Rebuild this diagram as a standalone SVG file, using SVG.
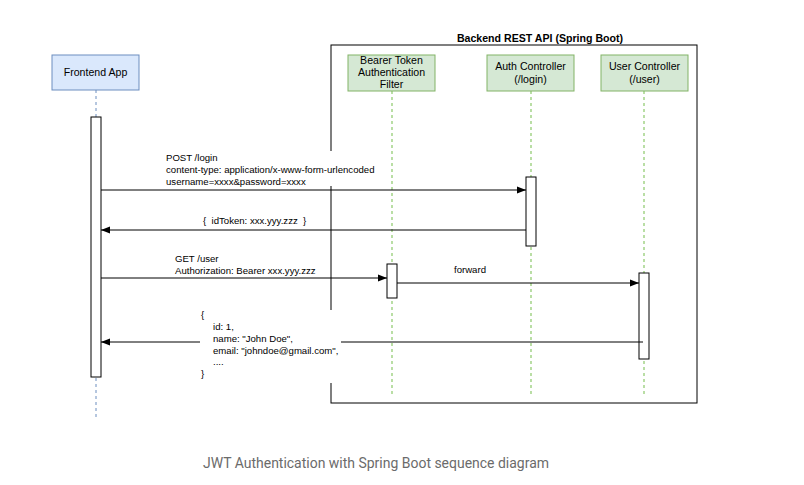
<svg xmlns="http://www.w3.org/2000/svg" width="804" height="485" viewBox="0 0 804 485">
<defs>
<style>
.t{font-family:"Liberation Sans",Arial,sans-serif;font-size:9.6px;fill:#000}
.p{font-family:"Liberation Sans",Arial,sans-serif;font-size:10.6px;fill:#000;text-anchor:middle}
.blue{fill:#dae8fc;stroke:#6c8ebf;stroke-width:1}
.green{fill:#d5e8d4;stroke:#82b366;stroke-width:1}
.ll{stroke:#6c8ebf;stroke-width:1;stroke-dasharray:3 3;fill:none}
.llg{stroke:#8cc86a;stroke-width:1.2;stroke-dasharray:3 3;fill:none}
.act{fill:#fff;stroke:#000;stroke-width:1}
.msg{stroke:#000;stroke-width:1;fill:none}
.bg{fill:#fff;stroke:none}
</style>
<marker id="ah" viewBox="0 0 10 10" refX="10" refY="5" markerWidth="9" markerHeight="9" markerUnits="userSpaceOnUse" orient="auto">
<path d="M0,1 L10,5 L0,9 Z" fill="#000"/>
</marker>
</defs>
<rect width="804" height="485" fill="#fff"/>

<g id="frame">
<rect x="331" y="45" width="366" height="358" fill="none" stroke="#000" stroke-width="1"/>
<text x="540" y="42" style="font-family:'Liberation Sans',Arial,sans-serif;font-size:10.6px;font-weight:bold;text-anchor:middle">Backend REST API (Spring Boot)</text>
</g>

<g id="frontend">
<line class="ll" x1="96" y1="90" x2="96" y2="420"/>
<rect class="blue" x="52" y="55" width="87" height="35"/>
<text class="p" x="95.5" y="76">Frontend App</text>
<rect class="act" x="91" y="117" width="10" height="260"/>
</g>

<g id="filter">
<line class="llg" x1="392" y1="91" x2="392" y2="396"/>
<rect class="green" x="348" y="55" width="87" height="36"/>
<text class="p" x="391.5" y="64">Bearer Token</text>
<text class="p" x="391.5" y="76">Authentication</text>
<text class="p" x="391.5" y="88">Filter</text>
<rect class="act" x="387" y="264" width="10" height="34"/>
</g>

<g id="auth">
<line class="llg" x1="531" y1="91" x2="531" y2="396"/>
<rect class="green" x="487" y="55" width="87" height="36"/>
<text class="p" x="530.5" y="70">Auth Controller</text>
<text class="p" x="530.5" y="83">(/login)</text>
<rect class="act" x="526" y="177" width="10" height="69"/>
</g>

<g id="user">
<line class="llg" x1="644" y1="91" x2="644" y2="396"/>
<rect class="green" x="601" y="55" width="87" height="36"/>
<text class="p" x="644.5" y="70">User Controller</text>
<text class="p" x="644.5" y="83">(/user)</text>
<rect class="act" x="639" y="273" width="10" height="86"/>
</g>

<g id="connectors">
<line class="msg" x1="101" y1="190" x2="526" y2="190" marker-end="url(#ah)"/>
<rect class="bg" x="164" y="151" width="212" height="35"/>
<text class="t" x="166" y="161">POST /login</text>
<text class="t" x="166" y="173">content-type: application/x-www-form-urlencoded</text>
<text class="t" x="166" y="185">username=xxxx&amp;password=xxxx</text>

<line class="msg" x1="526" y1="230" x2="101" y2="230" marker-end="url(#ah)"/>
<text class="t" x="203" y="224" xml:space="preserve">{  idToken: xxx.yyy.zzz  }</text>

<line class="msg" x1="101" y1="278" x2="387" y2="278" marker-end="url(#ah)"/>
<text class="t" x="175" y="262">GET /user</text>
<text class="t" x="175" y="274">Authorization: Bearer xxx.yyy.zzz</text>

<line class="msg" x1="397" y1="283" x2="639" y2="283" marker-end="url(#ah)"/>
<text class="t" x="470" y="273" text-anchor="middle">forward</text>

<line class="msg" x1="643" y1="342" x2="101" y2="342" marker-end="url(#ah)"/>
<rect class="bg" x="200" y="310" width="141" height="73"/>
<text class="t" x="201" y="318">{</text>
<text class="t" x="213" y="330">id: 1,</text>
<text class="t" x="213" y="342">name: "John Doe",</text>
<text class="t" x="213" y="354">email: "johndoe@gmail.com",</text>
<text class="t" x="213" y="365">....</text>
<text class="t" x="201" y="377">}</text>
</g>

<text x="376" y="468" text-anchor="middle" textLength="346" lengthAdjust="spacingAndGlyphs" style="font-family:Roboto,'Liberation Sans',sans-serif;font-size:14px;fill:#6b6b6b">JWT Authentication with Spring Boot sequence diagram</text>
</svg>
